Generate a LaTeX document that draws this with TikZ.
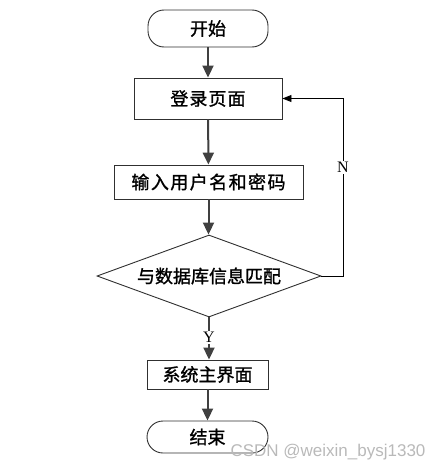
\documentclass[tikz,border=0pt]{standalone}
\usepackage{fontspec}
\setmainfont{Liberation Serif}
\newfontfamily\cjk{Noto Sans CJK SC}[FakeBold=1.2]
\newfontfamily\wmfont{Liberation Sans}
\usetikzlibrary{shapes.geometric,arrows.meta}
\definecolor{arrowgray}{HTML}{404040}
\definecolor{edgegray}{HTML}{303030}
\tikzset{
  box/.style={draw=edgegray, line width=0.9pt, fill=white, inner sep=0pt, font=\cjk\fontsize{18}{20}\selectfont},
  term/.style={box, rounded corners=16pt},
  flow/.style={draw=arrowgray, line width=2pt, -{Triangle[length=12pt,width=11pt]}},
  back/.style={draw=black, line width=0.9pt, -{Triangle[length=9pt,width=7pt]}},
  yn/.style={fill=white, inner sep=1pt, font=\fontsize{16}{18}\selectfont}
}
\begin{document}
\begin{tikzpicture}[x=1pt,y=-1pt]
\useasboundingbox (0,0) rectangle (444,471);
\node[term, minimum width=120pt, minimum height=37pt] (start) at (208,28.5) {开始};
\node[box, minimum width=148pt, minimum height=41pt] (login) at (208,98.5) {\addfontfeature{LetterSpace=6}登录页面};
\node[box, minimum width=189pt, minimum height=34pt] (input) at (208.5,182) {\addfontfeature{LetterSpace=8}输入用户名和密码};
\node[diamond, draw=edgegray, line width=0.9pt, fill=white, inner sep=0pt, minimum width=224pt, minimum height=82pt] (dec) at (209,276) {};
\node[font=\cjk\fontsize{18}{20}\selectfont] (dectext) at (dec.center) {与数据库信息匹配};
\node[box, minimum width=121pt, minimum height=29pt] (sys) at (207.5,374.5) {系统主界面};
\node[term, minimum width=121pt, minimum height=32pt] (end) at (207.5,437) {结束};
\coordinate (lx) at (343,0);

\draw[flow] (start) -- (login);
\draw[flow] (login) -- (input);
\draw[flow] (input.south) -- (input.south |- dec.north);
\draw[flow] (dec.south) -- node[yn, pos=0.48]{Y} (dec.south |- sys.north);
\draw[flow] (sys) -- (end);
\draw[back] (dec.east) -- (dec.east -| lx) -- node[yn, pos=0.61]{N} (login.east -| lx) -- (login.east);

\node[anchor=east, text=gray!55, font=\wmfont\fontsize{17}{19}\selectfont] (wm) at (429,452) {CSDN @weixin\_bysj1330};
\end{tikzpicture}
\end{document}
